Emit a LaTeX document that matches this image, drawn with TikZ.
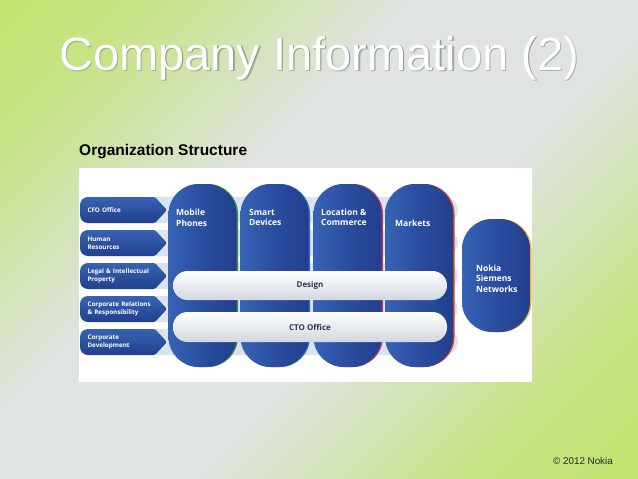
\documentclass[tikz,border=0pt]{standalone}
\usepackage{fontspec}
\setmainfont{Liberation Sans}
\newfontfamily\nokiafont{Open Sans}
\usetikzlibrary{calc}
\definecolor{bggreen}{HTML}{C3E370}
\definecolor{bggrey}{HTML}{DFE3E3}
\definecolor{nblue}{HTML}{2A4DA0}
\definecolor{nbluelight}{HTML}{3763B5}
\definecolor{nbluedark}{HTML}{213F8C}
\definecolor{rowband}{HTML}{DCE3EE}
\definecolor{bartext}{HTML}{2B3756}
\definecolor{bargrey}{HTML}{D2D7DF}
\definecolor{edgegreen}{HTML}{3F8F3A}
\definecolor{edgeblue}{HTML}{2F66C8}
\definecolor{edgepink}{HTML}{C8356A}
\definecolor{edgered}{HTML}{D2452E}
\definecolor{edgeyellow}{HTML}{E9B445}
\begin{document}
\begin{tikzpicture}[x=1pt,y=-1pt,
  colbox/.style={rounded corners=30pt, left color=nbluelight, right color=nbluedark,
    middle color=nblue, inner sep=0pt, minimum width=68pt, minimum height=183pt},
  coledge/.style={rounded corners=30pt, fill=#1, inner sep=0pt, minimum width=68pt, minimum height=183pt},
  coltext/.style={inner sep=0pt, anchor=north west, align=left, text=white,
    font=\nokiafont\bfseries\fontsize{8.5}{10.5}\selectfont},
  arrowbox/.style={rectangle, inner sep=0pt, minimum width=87pt, minimum height=26pt,
    text width=72pt, align=left, text=white,
    font=\nokiafont\bfseries\fontsize{6.3}{7.8}\selectfont,
    path picture={\shade[top color=nbluelight, bottom color=nbluedark, rounded corners=1.5pt]
      (path picture bounding box.east)
      -- ([xshift=-12pt]path picture bounding box.north east) [rounded corners=8pt]
      -- (path picture bounding box.north west)
      -- (path picture bounding box.south west) [rounded corners=1.5pt]
      -- ([xshift=-12pt]path picture bounding box.south east) -- cycle;}},
  rowbar/.style={rounded corners=13pt, fill=rowband, inner sep=0pt, minimum width=378pt, minimum height=26pt},
  hbar/.style={rounded corners=14.5pt, top color=white, bottom color=bargrey, inner sep=0pt,
    minimum width=274pt, minimum height=29pt, text=bartext,
    font=\nokiafont\bfseries\fontsize{8}{10}\selectfont},
]
\useasboundingbox (0,0) rectangle (638,479);
% background: diagonal gradient green - grey - green
\begin{scope}
  \clip (0,0) rectangle (638,479);
  \foreach \i in {0,...,119}{
    \pgfmathsetmacro{\bgsa}{\i*9.30833}
    \pgfmathsetmacro{\bgsb}{(\i+1)*9.30833+1}
    \pgfmathsetmacro{\bgt}{(\i+0.5)/120}
    \pgfmathsetmacro{\bgd}{abs(\bgt-0.49)}
    \pgfmathsetmacro{\bgg}{100*max(0,min(1,max(1-(\bgd-0.11)*3.333,0.2-(\bgd-0.35)*1.4286)))}
    \fill[bggrey!\bgg!bggreen] (\bgsa+600,-600) -- (\bgsa-600,600) -- (\bgsb-600,600) -- (\bgsb+600,-600) -- cycle;
  }
\end{scope}
% title
\node[anchor=base, text=gray!70!black, opacity=0.35, font=\fontsize{47}{50}\selectfont] (titleshadowa) at (320.5,71.5) {Company Information (2)};
\node[anchor=base, text=gray!70!black, opacity=0.35, font=\fontsize{47}{50}\selectfont] (titleshadowb) at (319.8,70.8) {Company Information (2)};
\node[anchor=base, text=white, font=\fontsize{47}{50}\selectfont] (title) at (319,70) {Company Information (2)};
% subtitle
\node[anchor=base west, inner sep=0pt, font=\bfseries\fontsize{15.5}{18}\selectfont] (orgtitle) at (79,155) {Organization Structure};
% white picture panel
\node[fill=white, inner sep=0pt, minimum width=453pt, minimum height=214pt, anchor=north west] (panel) at (79,168) {};
% row bands
\foreach \i/\y in {1/210,2/243,3/276,4/309,5/342}{
  \node[rowbar] (band\i) at (269,\y) {};
}
% arrows
\node[arrowbox] (cfo) at (123.5,210) {CFO Office};
\node[arrowbox] (hr) at (123.5,243) {Human\\Resources};
\node[arrowbox] (legal) at (123.5,276) {Legal \& Intellectual\\Property};
\node[arrowbox] (corprel) at (123.5,309) {Corporate Relations\\\& Responsibility};
\node[arrowbox] (corpdev) at (123.5,342) {Corporate\\Development};
% column edges
\node[coledge=edgegreen] (mpedge) at (204,275.5) {};
\node[coledge=edgeblue] (sdedge) at (276,275.5) {};
\node[coledge=edgepink] (lcedge) at (349,275.5) {};
\node[coledge=edgered] (mkedge) at (420.5,275.5) {};
\node[coledge=edgeyellow, minimum height=113pt] (nsnedge) at (497.5,275.5) {};
% columns
\node[colbox] (mp) at (202.5,275.5) {};
\node[colbox] (sd) at (274.5,275.5) {};
\node[colbox] (lc) at (347.5,275.5) {};
\node[colbox] (mk) at (419,275.5) {};
\node[colbox, minimum height=113pt] (nsn) at (496,275.5) {};
% column texts
\node[coltext] (mptext) at (176,209) {Mobile\\Phones};
\node[coltext] (sdtext) at (249,209) {Smart\\Devices};
\node[coltext] (lctext) at (321,208.5) {Location \&\\Commerce};
\node[coltext] (mktext) at (395,219.5) {Markets};
\node[coltext] (nsntext) at (476,264.5) {Nokia\\Siemens\\Networks};
% horizontal bars
\node[hbar] (design) at (310,285.5) {Design};
\node[hbar, minimum height=30pt] (cto) at (310,327) {CTO Office};
% footer
\node[anchor=base, inner sep=0pt, font=\fontsize{9.8}{12}\selectfont, text=black!85] (footer) at (583,464) {© 2012 Nokia};
\end{tikzpicture}
\end{document}
